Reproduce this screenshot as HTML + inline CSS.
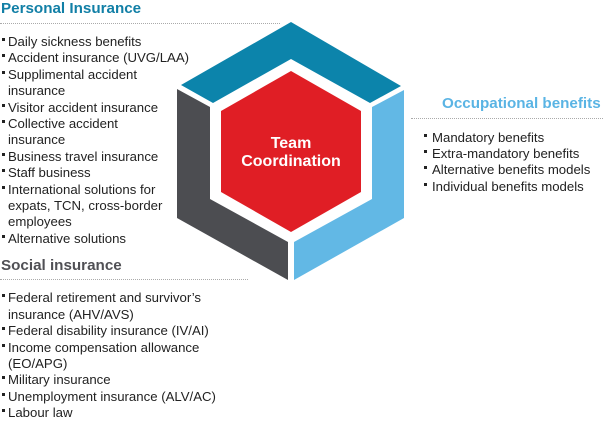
<!DOCTYPE html>
<html><head><meta charset="utf-8"><style>
body{margin:0;width:603px;height:426px;background:#fff;position:relative;overflow:hidden;font-family:"Liberation Sans",Arial,sans-serif;}
#w{position:absolute;left:0;top:1px;width:603px;height:426px;}
.t{position:absolute;font-size:13.2px;color:#222;white-space:nowrap;line-height:16px;}
.b{position:absolute;width:3px;height:3px;background:#222;}
.h{position:absolute;font-weight:bold;font-size:15.2px;white-space:nowrap;line-height:18px;}
.d{position:absolute;height:0;border-top:1px dotted #aaa;}
</style></head><body>
<svg width="603" height="426" style="position:absolute;left:0;top:0">
<polygon points="291,22 401,86 370,103 291,59 213,103 181,85" fill="#0c84ab"/>
<polygon points="177,89 177,218 288,280 288,242 210,199 210,107" fill="#4c4d51"/>
<polygon points="404,90 404,218 294,280 294,242 372,199 372,107" fill="#62b8e5"/>
<polygon points="291,71 361,111 361,192 291,232 221,192 221,111" fill="#e01e25"/>
<text x="291" y="148" text-anchor="middle" font-family="Liberation Sans,Arial,sans-serif" font-weight="bold" font-size="16" fill="#fff">Team</text>
<text x="291" y="166" text-anchor="middle" font-family="Liberation Sans,Arial,sans-serif" font-weight="bold" font-size="16" fill="#fff">Coordination</text>
</svg>
<div class="h" style="left:1px;top:0px;color:#117fa6">Personal Insurance</div>
<div class="d" style="left:0;top:23px;width:280px"></div>
<div class="h" style="left:442px;top:95px;color:#5ab4e4">Occupational benefits</div>
<div class="d" style="left:411px;top:118px;width:192px"></div>
<div class="h" style="left:1px;top:257px;color:#505055">Social insurance</div>
<div class="d" style="left:0;top:279px;width:248px"></div>
<div id="w">
<div class="b" style="left:2px;top:37px"></div><div class="t" style="left:8px;top:33px">Daily sickness benefits</div>
<div class="b" style="left:2px;top:53px"></div><div class="t" style="left:8px;top:49px">Accident insurance (UVG/LAA)</div>
<div class="b" style="left:2px;top:70px"></div><div class="t" style="left:8px;top:66px">Supplimental accident</div>
<div class="t" style="left:8px;top:82px">insurance</div>
<div class="b" style="left:2px;top:103px"></div><div class="t" style="left:8px;top:99px">Visitor accident insurance</div>
<div class="b" style="left:2px;top:119px"></div><div class="t" style="left:8px;top:115px">Collective accident</div>
<div class="t" style="left:8px;top:131px">insurance</div>
<div class="b" style="left:2px;top:152px"></div><div class="t" style="left:8px;top:148px">Business travel insurance</div>
<div class="b" style="left:2px;top:168px"></div><div class="t" style="left:8px;top:164px">Staff business</div>
<div class="b" style="left:2px;top:185px"></div><div class="t" style="left:8px;top:181px">International solutions for</div>
<div class="t" style="left:8px;top:197px">expats, TCN, cross-border</div>
<div class="t" style="left:8px;top:213px">employees</div>
<div class="b" style="left:2px;top:234px"></div><div class="t" style="left:8px;top:230px">Alternative solutions</div>

<div class="b" style="left:2px;top:293px"></div><div class="t" style="left:8px;top:289px">Federal retirement and survivor’s</div>
<div class="t" style="left:8px;top:306px">insurance (AHV/AVS)</div>
<div class="b" style="left:2px;top:326px"></div><div class="t" style="left:8px;top:322px">Federal disability insurance (IV/AI)</div>
<div class="b" style="left:2px;top:343px"></div><div class="t" style="left:8px;top:339px">Income compensation allowance</div>
<div class="t" style="left:8px;top:355px">(EO/APG)</div>
<div class="b" style="left:2px;top:375px"></div><div class="t" style="left:8px;top:371px">Military insurance</div>
<div class="b" style="left:2px;top:392px"></div><div class="t" style="left:8px;top:388px">Unemployment insurance (ALV/AC)</div>
<div class="b" style="left:2px;top:408px"></div><div class="t" style="left:8px;top:404px">Labour law</div>

<div class="b" style="left:424px;top:133px"></div><div class="t" style="left:432px;top:129px">Mandatory benefits</div>
<div class="b" style="left:424px;top:149px"></div><div class="t" style="left:432px;top:145px">Extra-mandatory benefits</div>
<div class="b" style="left:424px;top:165px"></div><div class="t" style="left:432px;top:161px">Alternative benefits models</div>
<div class="b" style="left:424px;top:182px"></div><div class="t" style="left:432px;top:178px">Individual benefits models</div>
</div>
</body></html>
